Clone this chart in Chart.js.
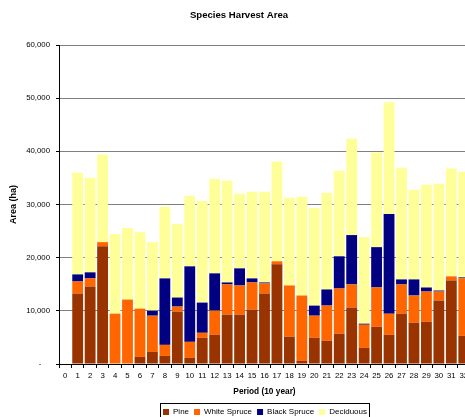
<!DOCTYPE html>
<html>
<head>
<meta charset="utf-8">
<script src="https://cdn.jsdelivr.net/npm/chart.js@4/dist/chart.umd.min.js"></script>
<style>
  html, body { margin: 0; padding: 0; background: #fff; overflow: hidden; }
  #wrap { width: 530px; height: 426px; }
</style>
</head>
<body>
<div id="wrap"><canvas id="harvestChart" width="530" height="426"></canvas></div>
<script>
// Период (10 лет) и площади по породам, га
const periods = ['0','1','2','3','4','5','6','7','8','9','10','11','12','13','14','15','16',
                 '17','18','19','20','21','22','23','24','25','26','27','28','29','30','31','32'];
const pine = [0, 13250, 14580, 22160, 0, 0, 1330, 2270, 1520, 9850, 1140, 4920, 5490, 9280, 9280, 10230, 13260,
              18750, 5110, 570, 4920, 4360, 5680, 10610, 3030, 7010, 5490, 9470, 7770, 7950, 11930, 15720, 5300];
const whiteSpruce = [0, 2270, 1520, 760, 9470, 12120, 9090, 6820, 2080, 950, 3030, 950, 4550, 5680, 5490, 5110, 1890,
                     570, 9660, 12310, 4170, 6630, 8520, 4360, 4360, 7390, 3980, 5490, 5110, 5680, 1700, 760, 10800];
const blackSpruce = [0, 1330, 1140, 0, 0, 0, 0, 950, 12500, 1700, 14200, 5680, 7010, 380, 3220, 760, 190,
                     0, 0, 0, 1890, 3030, 6060, 9280, 190, 7580, 18750, 950, 3030, 760, 190, 0, 190];
const deciduous = [0, 19130, 17800, 16480, 14960, 13450, 14390, 12880, 13450, 13830, 13260, 19130, 17800, 19130, 14020, 16290, 17050,
                   18750, 16480, 18560, 18370, 18180, 16100, 18180, 16290, 17800, 21020, 21020, 16850, 19320, 20080, 20270, 19890];
const yTicks = [0, 10000, 20000, 30000, 40000, 50000, 60000];

const FONT = "'Liberation Sans', Arial, sans-serif";

// заголовок рисуем сами, чтобы сдвинуть его как в оригинале
const titlePlugin = {
    id: 'excelTitle',
    afterDraw(chart) {
        const ctx = chart.ctx;
        ctx.save();
        ctx.font = "bold 9.6px " + FONT;
        ctx.fillStyle = '#000';
        ctx.textAlign = 'center';
        ctx.textBaseline = 'alphabetic';
        ctx.fillText('Species Harvest Area', 239, 17.5);
        ctx.restore();
    }
};

// рамка вокруг легенды
const legendBox = {
    id: 'legendBox',
    afterDraw(chart) {
        const boxes = chart.legend && chart.legend.legendHitBoxes;
        if (!boxes || !boxes.length) return;
        let l = Infinity, r = -Infinity, t = Infinity, b = -Infinity;
        boxes.forEach(hb => {
            l = Math.min(l, hb.left);
            r = Math.max(r, hb.left + hb.width);
            t = Math.min(t, hb.top);
            b = Math.max(b, hb.top + hb.height);
        });
        const ctx = chart.ctx;
        ctx.save();
        ctx.strokeStyle = '#000';
        ctx.lineWidth = 1;
        ctx.strokeRect(Math.round(l - 3) + 0.5, Math.round(t - 5) + 0.5, Math.round(r - l + 5), Math.round(b - t + 10));
        ctx.restore();
    }
};

const ctx = document.getElementById('harvestChart').getContext('2d');
const chart = new Chart(ctx, {
    type: 'bar',
    data: {
        labels: periods,
        datasets: [
            { label: 'Pine', data: pine, backgroundColor: '#993300' },
            { label: 'White Spruce', data: whiteSpruce, backgroundColor: '#FF6600' },
            { label: 'Black Spruce', data: blackSpruce, backgroundColor: '#000080' },
            { label: 'Deciduous', data: deciduous, backgroundColor: '#FFFF99' }
        ]
    },
    options: {
        responsive: false,
        animation: false,
        devicePixelRatio: 1,
        layout: { padding: { top: 45, left: 0, right: 0, bottom: 0 } },
        datasets: {
            bar: { categoryPercentage: 1, barPercentage: 0.87, borderWidth: 0 }
        },
        plugins: {
            title: { display: false },
            tooltip: { enabled: false },
            legend: {
                position: 'bottom',
                labels: {
                    color: '#000',
                    font: { family: FONT, size: 8 },
                    boxWidth: 6,
                    boxHeight: 6,
                    padding: 5
                }
            }
        },
        scales: {
            x: {
                stacked: true,
                afterFit(scale) { scale.height = 39; },
                grid: { display: true, drawOnChartArea: false, drawTicks: true, tickLength: 4, color: '#000', offset: true },
                border: { display: true, color: '#000', width: 1 },
                ticks: {
                    color: '#000', font: { family: FONT, size: 7.8 },
                    autoSkip: false, maxRotation: 0, minRotation: 0, padding: 3
                },
                title: {
                    display: true, text: 'Period (10 year)', color: '#000',
                    font: { family: FONT, size: 8.3, weight: 'bold' },
                    padding: { top: 0, bottom: 6.7 }
                }
            },
            y: {
                stacked: true,
                min: 0,
                max: 60000,
                afterFit(scale) { scale.width = 59; },
                afterBuildTicks(scale) { scale.ticks = yTicks.map(v => ({ value: v })); },
                grid: { color: '#808080', lineWidth: 1, drawTicks: true, tickLength: 3, tickColor: '#000' },
                border: { display: true, color: '#000', width: 1 },
                ticks: {
                    color: '#000', font: { family: FONT, size: 7.8 }, padding: 6,
                    callback: v => v === 0 ? '-    ' : v.toLocaleString('en-US')
                },
                title: {
                    display: true, text: 'Area (ha)', color: '#000',
                    font: { family: FONT, size: 9, weight: 'bold' },
                    padding: { top: 8, bottom: 0 }
                }
            },
            // пустая правая ось: место справа, чтобы легенда центрировалась как в Excel
            yRight: {
                position: 'right',
                min: 0,
                max: 60000,
                afterFit(scale) { scale.width = 60; },
                grid: { drawOnChartArea: false, drawTicks: false },
                border: { display: false },
                ticks: { display: false }
            }
        }
    },
    plugins: [titlePlugin, legendBox]
});
</script>
</body>
</html>
